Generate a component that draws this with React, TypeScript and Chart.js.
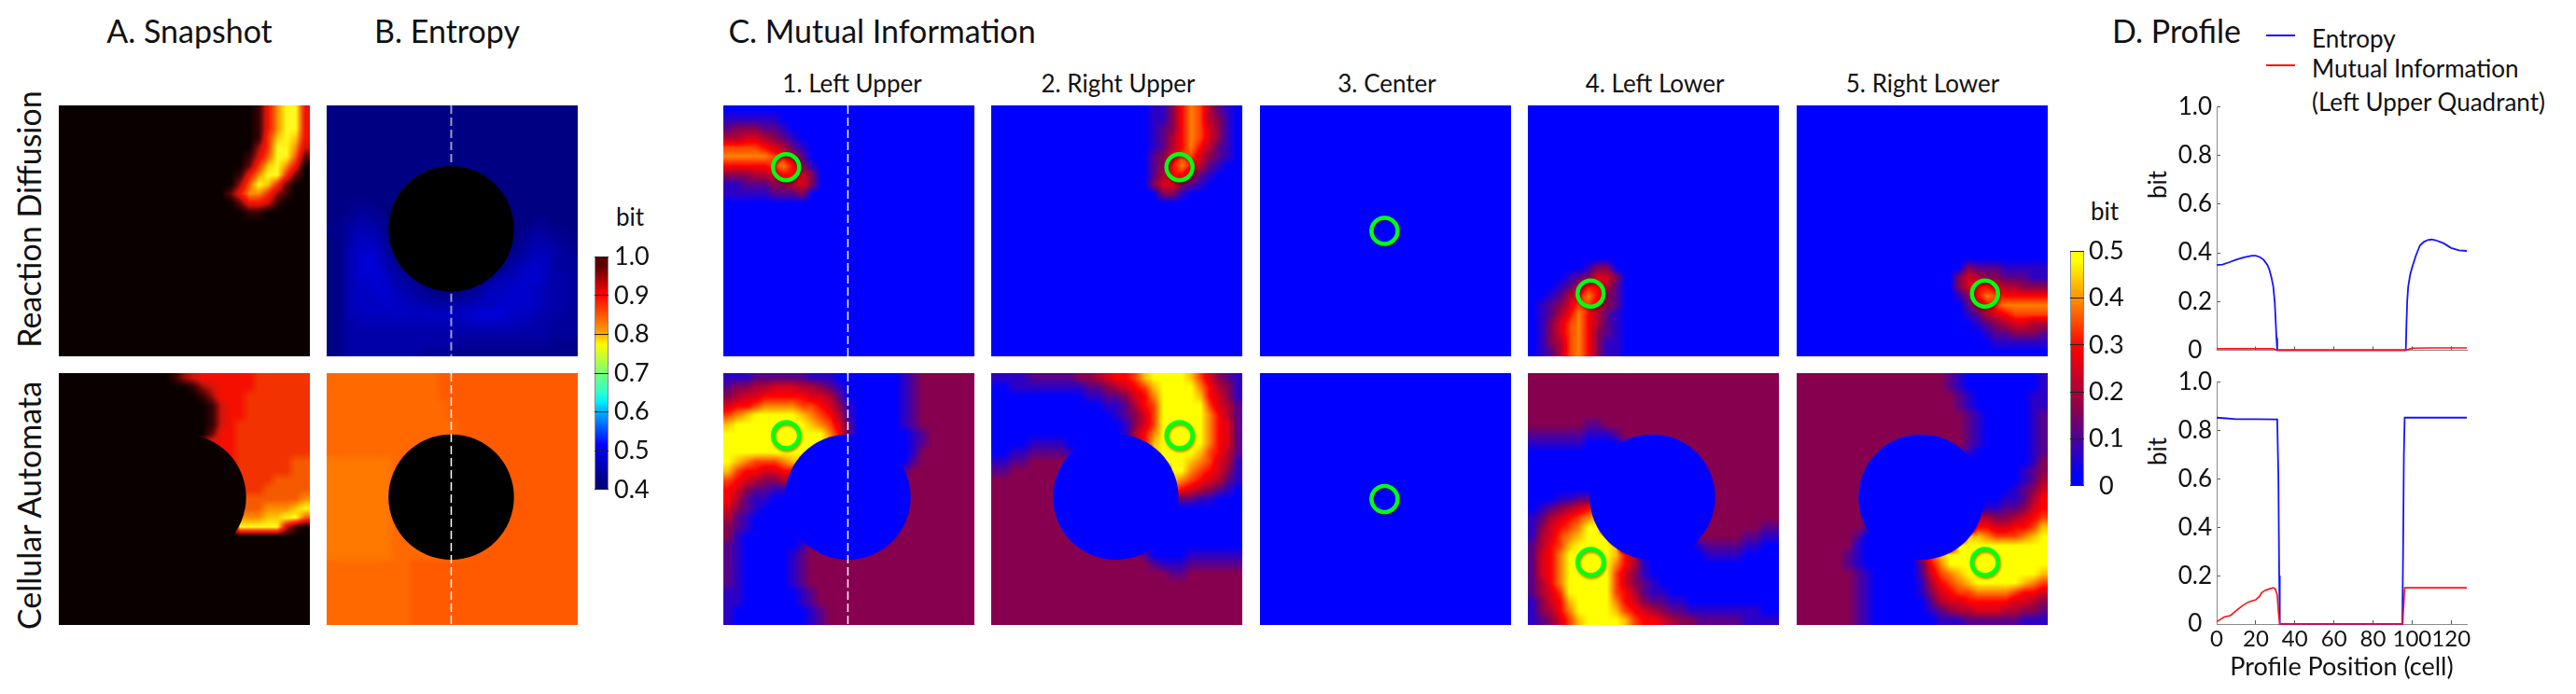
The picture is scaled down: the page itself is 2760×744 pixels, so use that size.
import React, { useEffect, useRef } from "react";
import { Chart, registerables } from "chart.js";
Chart.register(...registerables);

const FONT = "Lato, 'Open Sans', sans-serif";
const DOMAIN = 128;

// ---- heat-map grids: each row holds one level per cell, base-36 digits ----
const snapshotRD = [
  "000000000000000000000158aa5","000000000000000000000158aa5","000000000000000000000158aa5","000000000000000000000169a95",
  "00000000000000000000036aa84","00000000000000000000147aa72","00000000000000000000269a850","0000000000000000000158aa620",
  "000000000000000000037a96200","000000000000000000258863100","000000000000000000025541000","000000000000000000001100000",
  "000000000000000000000000000","000000000000000000000000000","000000000000000000000000000","000000000000000000000000000",
  "000000000000000000000000000","000000000000000000000000000","000000000000000000000000000","000000000000000000000000000",
  "000000000000000000000000000","000000000000000000000000000","000000000000000000000000000","000000000000000000000000000",
  "000000000000000000000000000","000000000000000000000000000","000000000000000000000000000",
];
const snapshotCA = [
  "000000000000134555555666666","000000000000001345555666666","000000000000000135556666666","000000000000000014556666666",
  "000000000000000014556666666","000000000000000014566666666","000000000000000025566666666","000000000000000455566666666",
  "000000000000000555566666666","000000000000000055566666677","000000000000000066666666677","000000000000000066666667777",
  "000000000000000066666677777","000000000000000077777777778","00000000000000007777778889a","000000000000000000888899aa7",
  "0000000000000000000aaaaa410","000000000000000000000000000","000000000000000000000000000","000000000000000000000000000",
  "000000000000000000000000000","000000000000000000000000000","000000000000000000000000000","000000000000000000000000000",
  "000000000000000000000000000","000000000000000000000000000","000000000000000000000000000",
];
const entropyRD = [
  "000000000000000000000000000","000000000000000000000000000","000000000000000000000000000","000000000000000000000000000",
  "000000000000000000000000000","000000000000000000000000000","000000000000000000000000000","000000000000000000000000000",
  "000000000000000000000000000","000000000000000000000000000","001110000000000000000000000","001221000000000000000000000",
  "012332100000000000000011000","113443100000000000000122110","013554100000000000000233211","014565200000000000001344321",
  "014676310000000000012455322","014676421000000000124565322","014667532100000011345665332","014566643210000124556654332",
  "014556654321101235566654332","014555655443334455666654332","014455555555555677765543322","013444444444444555554433222",
  "013333333333333333333333222","013333333333332222222222111","013333333322211111111111111",
];
const entropyCA = [
  "555555555555666666666666666","555555555555666666666666666","555555555555666666666666666","555555555555566666666666666",
  "555555555555566666666666666","555555555555556666666666666","555555555555556666666666666","555555555555556666666666666",
  "555555555555555666666666666","444444455555555666666666666","444444455555555666666666666","444444455555555666666666666",
  "444444455555555666666666666","444444455555555666666666666","444444455555555666666666666","444444455555555666666666666",
  "444444455555555666666666666","444444455555555666666666666","444444455555555666666666666","444444455555555666666666666",
  "555555555666666666666666666","555555555666666666666666666","555555555666666666666666666","555555555666666666666666666",
  "555555555666666666666666666","555555555666666666666666666","555555555666666666666666666",
];
const miLeftUpperRD = [
  "000000000000000000000000000","111111000000000000000000000","233322100000000000000000000","445543210000000000000000000",
  "777765421000000000000000000","888887642000000000000000000","666667863100000000000000000","333445665300000000000000000",
  "112223345300000000000000000","111112223000000000000000000","000000000000000000000000000","000000000000000000000000000",
  "000000000000000000000000000","000000000000000000000000000","000000000000000000000000000","000000000000000000000000000",
  "000000000000000000000000000","000000000000000000000000000","000000000000000000000000000","000000000000000000000000000",
  "000000000000000000000000000","000000000000000000000000000","000000000000000000000000000","000000000000000000000000000",
  "000000000000000000000000000","000000000000000000000000000","000000000000000000000000000",
];
const miRightUpperRD = [
  "000000000000000001136874210","000000000000000001136874310","000000000000000001236875310","000000000000000001246875310",
  "000000000000000001246864210","000000000000000002357753210","000000000000000002368642100","000000000000000002466421000",
  "000000000000000003553210000","000000000000000000331000000","000000000000000000000000000","000000000000000000000000000",
  "000000000000000000000000000","000000000000000000000000000","000000000000000000000000000","000000000000000000000000000",
  "000000000000000000000000000","000000000000000000000000000","000000000000000000000000000","000000000000000000000000000",
  "000000000000000000000000000","000000000000000000000000000","000000000000000000000000000","000000000000000000000000000",
  "000000000000000000000000000","000000000000000000000000000","000000000000000000000000000",
];
const miCenterBlank = [
  "000000000000000000000000000","000000000000000000000000000","000000000000000000000000000","000000000000000000000000000",
  "000000000000000000000000000","000000000000000000000000000","000000000000000000000000000","000000000000000000000000000",
  "000000000000000000000000000","000000000000000000000000000","000000000000000000000000000","000000000000000000000000000",
  "000000000000000000000000000","000000000000000000000000000","000000000000000000000000000","000000000000000000000000000",
  "000000000000000000000000000","000000000000000000000000000","000000000000000000000000000","000000000000000000000000000",
  "000000000000000000000000000","000000000000000000000000000","000000000000000000000000000","000000000000000000000000000",
  "000000000000000000000000000","000000000000000000000000000","000000000000000000000000000",
];
const miLeftLowerRD = [
  "000000000000000000000000000","000000000000000000000000000","000000000000000000000000000","000000000000000000000000000",
  "000000000000000000000000000","000000000000000000000000000","000000000000000000000000000","000000000000000000000000000",
  "000000000000000000000000000","000000000000000000000000000","000000000000000000000000000","000000000000000000000000000",
  "000000000000000000000000000","000000000000000000000000000","000000000000000000000000000","000000000000000000000000000",
  "000000000000000000000000000","000000133000000000000000000","000012355300000000000000000","000124664200000000000000000",
  "001246863200000000000000000","012357753200000000000000000","012468642100000000000000000","013578642100000000000000000",
  "013578632100000000000000000","013478631100000000000000000","012478631100000000000000000",
];
const miRightLowerRD = [
  "000000000000000000000000000","000000000000000000000000000","000000000000000000000000000","000000000000000000000000000",
  "000000000000000000000000000","000000000000000000000000000","000000000000000000000000000","000000000000000000000000000",
  "000000000000000000000000000","000000000000000000000000000","000000000000000000000000000","000000000000000000000000000",
  "000000000000000000000000000","000000000000000000000000000","000000000000000000000000000","000000000000000000000000000",
  "000000000000000000000000000","000000000000000000322211111","000000000000000003543322211","000000000000000003566544333",
  "000000000000000001368766666","000000000000000000246788888","000000000000000000124567777","000000000000000000012345544",
  "000000000000000000001223332","000000000000000000000111111","000000000000000000000000000",
];
const miLeftUpperCA = [
  "111222222111000000012333333","233445554432100000012333333","345566666554200000012333333","566788887765310000012333333",
  "789aaaaa9876410000012333333","9aaaaaaaa987520000012333333","aaaaaaaaaaa8620000001233333","aaaaaaaaaaa9740000001233333",
  "aaaaaaaaaa00000000001333333","a98777899000000000002333333","976655660000000000023333333","765433440000000000333333333",
  "653221100000000000333333333","642110000000000000333333333","532100000000000000333333333","421000000000000000333333333",
  "321000000000000000333333333","310000000000000003333333333","210000001333333333333333333","210000012333333333333333333",
  "210000012333333333333333333","210000012333333333333333333","210000012333333333333333333","110000001233333333333333333",
  "110000001233333333333333333","100000000123333333333333333","100000000123333333333333333",
];
const miRightUpperCA = [
  "11112222233456679aaaa975321","001111111122345679aaaa86431","000000000011223568aaaa96531","000000000000112467aaaaa7542",
  "000000000000012357aaaaa8642","000000000000001357aaaaa8652","000000000000001468aaaaa8652","000011110000000469aaaaa8652",
  "001122221000000009aaaa97642","112233333000000000aaa987541","2233333330000000000aa876531","333333333000000000098765421",
  "333333333000000000076543210","333333333000000000042211000","333333333000000000000000000","333333333000000000000000000",
  "333333333000000000000000000","333333333300000000000000000","333333333333333300000000000","333333333333333320000111111",
  "333333333333333332111222222","333333333333333333322333333","333333333333333333333333333","333333333333333333333333333",
  "333333333333333333333333333","333333333333333333333333333","333333333333333333333333333",
];
const miLeftLowerCA = [
  "333333333333333333333333333","333333333333333333333333333","333333333333333333333333333","333333333333333333333333333",
  "333333333333333333333333333","333333223333333333333333333","222222111233333333333333333","111111000023333333333333333",
  "000000000003333333333333333","000000000000000003333333333","000000000000000000333333333","000000000000000000333333333",
  "000000000000000000333333333","000112240000000000333333333","012345670000000000333333333","124567890000000000333333333",
  "135678aa0000000000333333322","145789aaa000000000333332211","24679aaaa900000000122221100","2568aaaaa964000000011110000",
  "2568aaaaa864100000000000000","2568aaaaa753100000000000000","2468aaaaa753210000000000000","2457aaaaa764211000000000000",
  "13569aaaa865322110000000000","13468aaaa976543221111111100","123579aaaa97665433222221111",
];
const miRightLowerCA = [
  "333333333333333321000000001","333333333333333321000000001","333333333333333332100000011","333333333333333332100000011",
  "333333333333333333210000012","333333333333333333210000012","333333333333333333210000012","333333333333333333210000012",
  "333333333333333333100000012","333333333300000000000000013","333333333000000000000000123","333333333000000000000000124",
  "333333333000000000000001235","333333333000000000000011246","333333333000000000001122356","333333333000000000044334567",
  "333333320000000000066556679","33333320000000000099877789a","33333310000000000aaaaaaaaaa","3333321000000479aaaaaaaaaaa",
  "3333321000000268aaaaaaaaaaa","333333210000025789aaaaaaaa9","3333332100000146789aaaaa987","333333210000013567788887665",
  "333333210000002455666665543","333333210000001234455544332","333333210000000111222222111",
];

// ---- colour bars ----
const entropyBarValues = [1.0, 0.95, 0.9, 0.85, 0.8, 0.75, 0.7, 0.65, 0.6, 0.55, 0.5, 0.45, 0.4];
const miBarValues = [0.5, 0.45, 0.4, 0.35, 0.3, 0.25, 0.2, 0.15, 0.1, 0.05, 0];

// ---- probe positions (cell units) and profile line ----
const probeLeftUpper = { x: 32, y: 31.5 };
const probeRightUpper = { x: 96, y: 31.5 };
const probeCenter = { x: 63.5, y: 64 };
const probeLeftLower = { x: 32, y: 96 };
const probeRightLower = { x: 96, y: 96 };
const obstacleCenter = { x: 63.5, y: 63 };
const obstacleRadius = 32;
const profileColumn = 63.5;

// ---- profile curves ----
const rdEntropyX = [0,3,6,10,14,18,20,22,24,26,27,28,29,29.7,30.2,30.6,31,96.8,97.1,97.5,98,99,100,102,104,106,108,110,112,116,120,124,128];
const rdEntropyY = [.35,.352,.36,.372,.382,.388,.388,.383,.372,.35,.33,.3,.26,.2,.12,.05,0,0,.1,.2,.26,.31,.34,.39,.43,.445,.453,.455,.452,.44,.42,.41,.408];
const rdMiX = [0,29,31,96,98,100,110,128];
const rdMiY = [.006,.006,0,0,.003,.008,.009,.009];
const caEntropyX = [0,5,10,20,31,31.6,32,32.3,95,95.4,95.8,96.2,128];
const caEntropyY = [.853,.85,.847,.847,.846,.6,.2,0,0,.3,.7,.853,.853];
const caMiX = [0,2,4,7,10,13,16,18,20,22,23,25,27,29,30,31,31.6,32.3,95.2,96.2,128];
const caMiY = [.01,.02,.03,.035,.055,.075,.09,.095,.1,.115,.13,.14,.145,.15,.145,.12,.05,0,0,.15,.15];

// ---- colour maps: [value, r, g, b] ----
type Stop = number[];
const snapshotStops: Stop[] = [[0,10,0,0],[2,100,5,5],[4,210,20,10],[5,245,15,0],[6,242,50,0],[7,245,90,0],[8,255,140,0],[9,255,200,0],[10,255,248,30]];
const entropyStops: Stop[] = [[.4,0,0,130],[.5,0,0,255],[.6,0,190,255],[.62,0,240,255],[.65,50,255,200],[.7,120,255,120],[.78,255,250,0],[.8,255,200,0],[.82,255,150,0],[.92,255,0,0],[1,90,0,0]];
const miStops: Stop[] = [[0,0,0,255],[.15,135,0,80],[.3,255,0,0],[.5,255,255,0]];

function shade(stops: Stop[], v: number): number[] {
  if (v <= stops[0][0]) return stops[0].slice(1);
  for (let i = 1; i < stops.length; i++) {
    if (v <= stops[i][0]) {
      const a = stops[i - 1], b = stops[i], t = (v - a[0]) / (b[0] - a[0]);
      return [a[1] + (b[1] - a[1]) * t, a[2] + (b[2] - a[2]) * t, a[3] + (b[3] - a[3]) * t];
    }
  }
  return stops[stops.length - 1].slice(1);
}
const css = (c: number[]) => `rgb(${c.map(Math.round).join(",")})`;

function decode(rows: string[], base: number, step: number): number[][] {
  return rows.map((r) => {
    const out: number[] = [];
    for (let i = 0; i < rows.length; i++) {
      const ch = r[i] ?? r[r.length - 1];
      out.push(base + parseInt(ch, 36) * step);
    }
    return out;
  });
}

// Paints each heat dataset's cells as a continuous field, placed with the chart's scales.
const heatPlugin = {
  id: "heatField",
  afterDatasetDraw(chart: any, args: any) {
    const ds = chart.data.datasets[args.index];
    if (ds.heat) {
      const { grid, stops, frame } = ds.heat;
      const { x, y } = chart.scales;
      const left = Math.round(Math.min(x.getPixelForValue(x.min), x.getPixelForValue(x.max)));
      const right = Math.round(Math.max(x.getPixelForValue(x.min), x.getPixelForValue(x.max)));
      const top = Math.round(Math.min(y.getPixelForValue(y.min), y.getPixelForValue(y.max)));
      const bottom = Math.round(Math.max(y.getPixelForValue(y.min), y.getPixelForValue(y.max)));
      const w = right - left, h = bottom - top;
      const off = document.createElement("canvas");
      off.width = w; off.height = h;
      const octx = off.getContext("2d")!;
      const img = octx.createImageData(w, h);
      const nr = grid.length, nc = grid[0].length;
      for (let py = 0; py < h; py++) {
        const fy = Math.max(0, Math.min(nr - 1, ((py + 0.5) / h) * nr - 0.5));
        const r0 = Math.floor(fy), r1 = Math.min(nr - 1, r0 + 1), ty = fy - r0;
        for (let px = 0; px < w; px++) {
          const fx = Math.max(0, Math.min(nc - 1, ((px + 0.5) / w) * nc - 0.5));
          const c0 = Math.floor(fx), c1 = Math.min(nc - 1, c0 + 1), tx = fx - c0;
          const v = (grid[r0][c0] * (1 - tx) + grid[r0][c1] * tx) * (1 - ty) + (grid[r1][c0] * (1 - tx) + grid[r1][c1] * tx) * ty;
          const c = shade(stops, v);
          const i = (py * w + px) * 4;
          img.data[i] = c[0]; img.data[i + 1] = c[1]; img.data[i + 2] = c[2]; img.data[i + 3] = 255;
        }
      }
      octx.putImageData(img, 0, 0);
      chart.ctx.drawImage(off, left, top);
      if (frame) {
        chart.ctx.save();
        chart.ctx.strokeStyle = frame;
        chart.ctx.lineWidth = 1;
        chart.ctx.strokeRect(left + 0.5, top + 0.5, w - 1, h - 1);
        chart.ctx.restore();
      }
    }
  },
  beforeDatasetDraw(chart: any, args: any) {
    if (chart.data.datasets[args.index].probe) {
      const c = chart.ctx;
      c.save();
      c.shadowColor = "rgba(0,0,0,0.4)";
      c.shadowBlur = 3;
      c.shadowOffsetX = 1;
      c.shadowOffsetY = 2;
    }
  },
};
const probeRestore = {
  id: "probeRestore",
  afterDatasetDraw(chart: any, args: any) {
    if (chart.data.datasets[args.index].probe) chart.ctx.restore();
  },
};

function useChart(config: () => any) {
  const ref = useRef<HTMLCanvasElement>(null);
  useEffect(() => {
    const chart = new Chart(ref.current!, config());
    return () => chart.destroy();
  }, []);
  return ref;
}

const baseOptions = {
  responsive: false,
  animation: false as const,
  devicePixelRatio: 1,
  events: [] as string[],
  plugins: { legend: { display: false }, tooltip: { enabled: false }, title: { display: false } },
};

function HeatPanel(p: {
  left: number; top: number; height: number; rows: string[]; base: number; step: number; stops: Stop[];
  discColor?: string; probe?: { x: number; y: number }; dash?: number[][]; dashColor?: string; dashWidth?: number;
}) {
  const width = 269;
  const ref = useChart(() => {
    const grid = decode(p.rows, p.base, p.step);
    const n = grid.length;
    const cells: any[] = [];
    const colors: string[] = [];
    grid.forEach((row, r) =>
      row.forEach((v, c) => {
        cells.push({ x: ((c + 0.5) * DOMAIN) / n, y: ((r + 0.5) * DOMAIN) / n, v });
        colors.push(css(shade(p.stops, v)));
      })
    );
    const datasets: any[] = [];
    if (p.probe) {
      datasets.push({
        label: "probe", probe: true, data: [p.probe], order: 0, pointRadius: 14, pointBorderWidth: 4.5,
        pointBorderColor: "#00ff14", pointBackgroundColor: "rgba(0,0,0,0)",
      });
    }
    (p.dash || []).forEach((seg) => {
      datasets.push({
        label: "profile line", data: [{ x: profileColumn, y: seg[0] }, { x: profileColumn, y: seg[1] }], order: 1,
        showLine: true, pointRadius: 0, borderColor: p.dashColor || "#fff", borderWidth: p.dashWidth || 1.5, borderDash: [9, 4],
      });
    });
    if (p.discColor) {
      datasets.push({
        label: "obstacle", data: [obstacleCenter], order: 2, pointBackgroundColor: p.discColor, pointBorderWidth: 0,
        pointRadius: (ctx: any) => {
          const s = ctx.chart.scales.x;
          return s.getPixelForValue(obstacleRadius) - s.getPixelForValue(0);
        },
      });
    }
    datasets.push({
      label: "cells", data: cells, order: 3, pointStyle: "rect", pointBackgroundColor: colors, pointBorderWidth: 0,
      pointRadius: 8, heat: { grid, stops: p.stops },
    });
    return {
      type: "scatter",
      data: { datasets },
      options: {
        ...baseOptions,
        layout: { padding: 0, autoPadding: false },
        scales: {
          x: { type: "linear", display: false, min: 0, max: DOMAIN },
          y: { type: "linear", display: false, min: 0, max: DOMAIN, reverse: true },
        },
      },
      plugins: [heatPlugin, probeRestore],
    };
  });
  return <canvas ref={ref} width={width} height={p.height} style={{ position: "absolute", left: p.left, top: p.top }} />;
}

function ColorBar(p: { left: number; top: number; values: number[]; stops: Stop[]; min: number; max: number; tickPad: number }) {
  const W = 100, H = 300, barW = 15, barH = 268, padTop = 14;
  const ref = useChart(() => {
    const grid = p.values.map((v) => [v]);
    return {
      type: "scatter",
      data: {
        datasets: [{
          label: "scale", data: p.values.map((v) => ({ x: 0.5, y: v })), pointStyle: "rect", pointRadius: 8, pointBorderWidth: 0,
          pointBackgroundColor: p.values.map((v) => css(shade(p.stops, v))), heat: { grid, stops: p.stops, frame: "#8a8a8a" },
        }],
      },
      options: {
        ...baseOptions,
        layout: { autoPadding: false, padding: { left: 7, top: padTop, right: 0, bottom: H - padTop - barH } },
        scales: {
          x: { type: "linear", display: false, min: 0, max: 1 },
          y: {
            type: "linear", position: "right", min: p.min, max: p.max,
            afterFit: (s: any) => { s.width = W - 7 - barW; },
            border: { display: false },
            grid: { z: 1, color: "#222", tickLength: -3, drawOnChartArea: true, borderDash: [3, 9, 3] },
            ticks: {
              stepSize: 0.1, includeBounds: false, autoSkip: false, padding: p.tickPad, crossAlign: "center", color: "#111",
              font: { family: FONT, size: 27 }, callback: (v: number) => (v === 0 ? "0" : v.toFixed(1)),
            },
          },
        },
      },
      plugins: [heatPlugin],
    };
  });
  return <canvas ref={ref} width={W} height={H} style={{ position: "absolute", left: p.left - 7, top: p.top - padTop }} />;
}

function ProfileChart(p: {
  top: number; height: number; padTop: number; xHeight: number; showX: boolean;
  ex: number[]; ey: number[]; mx: number[]; my: number[];
}) {
  const left = 2290, W = 370;
  const ref = useChart(() => ({
    type: "scatter",
    data: {
      datasets: [
        { label: "Mutual Information", data: p.mx.map((x, i) => ({ x, y: p.my[i] })), showLine: true, pointRadius: 0, borderColor: "#ff1010", borderWidth: 1.6, clip: false },
        { label: "Entropy", data: p.ex.map((x, i) => ({ x, y: p.ey[i] })), showLine: true, pointRadius: 0, borderColor: "#1414ff", borderWidth: 1.8, clip: false },
      ],
    },
    options: {
      ...baseOptions,
      layout: { autoPadding: false, padding: { top: p.padTop, right: W - (2643 - left), left: 0, bottom: 0 } },
      scales: {
        x: {
          type: "linear", min: 0, max: DOMAIN,
          afterFit: (s: any) => { s.height = p.xHeight; },
          border: { color: "#8a8a8a" },
          grid: { drawOnChartArea: false, tickLength: -4, color: "#555" },
          ticks: {
            stepSize: 20, includeBounds: false, autoSkip: false, display: p.showX, padding: 6, color: "#111", maxRotation: 0,
            font: { family: FONT, size: 24 },
          },
          title: {
            display: p.showX, text: "Profile Position (cell)", color: "#111", font: { family: FONT, size: 27 },
            padding: { top: 0, bottom: 13 },
          },
        },
        y: {
          type: "linear", min: 0, max: 1,
          afterFit: (s: any) => { s.width = 2375 - left; },
          border: { color: "#8a8a8a" },
          grid: { drawOnChartArea: false, tickLength: -4, color: "#555" },
          ticks: {
            stepSize: 0.2, includeBounds: false, autoSkip: false, padding: 9, crossAlign: "center", color: "#111",
            font: { family: FONT, size: 26 }, callback: (v: number) => (v === 0 ? "0" : v.toFixed(1)),
          },
        },
      },
    },
  }));
  return <canvas ref={ref} width={W} height={p.height} style={{ position: "absolute", left, top: p.top }} />;
}

function Label(p: { x: number; y: number; size: number; text: string; rotate?: boolean; anchor?: "left" | "center" }) {
  const tx = p.anchor === "left" ? "0" : "-50%";
  return (
    <div
      style={{
        position: "absolute", left: p.x, top: p.y, whiteSpace: "nowrap", fontFamily: FONT, fontSize: p.size, color: "#111", lineHeight: 1,
        transform: `translate(${tx},-50%)${p.rotate ? " rotate(-90deg)" : ""}`,
      }}
    >
      {p.text}
    </div>
  );
}

const ROW1 = 113, ROW2 = 400, H1 = 269, H2 = 270;
const C_X = [775, 1062, 1350, 1637, 1925];
const FULL = [[0, DOMAIN]];
const ABOVE_BELOW = [[0, 30], [96, DOMAIN]];

export default function App() {
  const mi = { base: 0, step: 0.05, stops: miStops };
  const blue = "#0000ff";
  return (
    <div style={{ position: "fixed", left: 0, top: 0, width: 2760, height: 744, background: "#fff", overflow: "hidden" }}>
      <Label x={203} y={33} size={34} text="A. Snapshot" />
      <Label x={479} y={33} size={34} text="B. Entropy" />
      <Label x={945} y={33} size={34} text="C. Mutual Information" />
      <Label x={2332} y={33} size={34} text="D. Profile" />
      <Label x={31} y={235} size={34} text="Reaction Diffusion" rotate />
      <Label x={31} y={542} size={34} text="Cellular Automata" rotate />
      <Label x={913} y={89} size={26} text="1. Left Upper" />
      <Label x={1198} y={89} size={26} text="2. Right Upper" />
      <Label x={1486} y={89} size={26} text="3. Center" />
      <Label x={1773} y={89} size={26} text="4. Left Lower" />
      <Label x={2060} y={89} size={26} text="5. Right Lower" />
      <Label x={675} y={232} size={26} text="bit" />
      <Label x={2255} y={226} size={26} text="bit" />
      <Label x={2311} y={198} size={26} text="bit" rotate />
      <Label x={2311} y={484} size={26} text="bit" rotate />
      <div style={{ position: "absolute", left: 2428, top: 37, width: 31, height: 2, background: "#1414ff" }} />
      <div style={{ position: "absolute", left: 2428, top: 69, width: 31, height: 2, background: "#ff1010" }} />
      <Label x={2477} y={41} size={26} text="Entropy" anchor="left" />
      <Label x={2477} y={73} size={26} text="Mutual Information" anchor="left" />
      <Label x={2477} y={109} size={26} text="(Left Upper Quadrant)" anchor="left" />

      <HeatPanel left={63} top={ROW1} height={H1} rows={snapshotRD} base={0} step={1} stops={snapshotStops} />
      <HeatPanel left={63} top={ROW2} height={H2} rows={snapshotCA} base={0} step={1} stops={snapshotStops} discColor="rgb(10,0,0)" />
      <HeatPanel left={350} top={ROW1} height={H1} rows={entropyRD} base={0.4} step={0.01} stops={entropyStops} discColor="#000" dash={ABOVE_BELOW} dashColor="rgba(255,255,255,0.6)" dashWidth={2} />
      <HeatPanel left={350} top={ROW2} height={H2} rows={entropyCA} base={0.8} step={0.01} stops={entropyStops} discColor="#000" dash={FULL} />

      <HeatPanel left={C_X[0]} top={ROW1} height={H1} rows={miLeftUpperRD} {...mi} probe={probeLeftUpper} dash={FULL} />
      <HeatPanel left={C_X[1]} top={ROW1} height={H1} rows={miRightUpperRD} {...mi} probe={probeRightUpper} />
      <HeatPanel left={C_X[2]} top={ROW1} height={H1} rows={miCenterBlank} {...mi} probe={probeCenter} />
      <HeatPanel left={C_X[3]} top={ROW1} height={H1} rows={miLeftLowerRD} {...mi} probe={probeLeftLower} />
      <HeatPanel left={C_X[4]} top={ROW1} height={H1} rows={miRightLowerRD} {...mi} probe={probeRightLower} />

      <HeatPanel left={C_X[0]} top={ROW2} height={H2} rows={miLeftUpperCA} {...mi} discColor={blue} probe={probeLeftUpper} dash={FULL} />
      <HeatPanel left={C_X[1]} top={ROW2} height={H2} rows={miRightUpperCA} {...mi} discColor={blue} probe={probeRightUpper} />
      <HeatPanel left={C_X[2]} top={ROW2} height={H2} rows={miCenterBlank} {...mi} probe={probeCenter} />
      <HeatPanel left={C_X[3]} top={ROW2} height={H2} rows={miLeftLowerCA} {...mi} discColor={blue} probe={probeLeftLower} />
      <HeatPanel left={C_X[4]} top={ROW2} height={H2} rows={miRightLowerCA} {...mi} discColor={blue} probe={probeRightLower} />

      <ColorBar left={637} top={264} values={entropyBarValues} stops={entropyStops} min={0.4} max={1} tickPad={9} />
      <ColorBar left={2218} top={259} values={miBarValues} stops={miStops} min={0} max={0.5} tickPad={8} />

      <ProfileChart top={90} height={310} padTop={23} xHeight={19} showX={false} ex={rdEntropyX} ey={rdEntropyY} mx={rdMiX} my={rdMiY} />
      <ProfileChart top={385} height={359} padTop={15} xHeight={75} showX={true} ex={caEntropyX} ey={caEntropyY} mx={caMiX} my={caMiY} />
    </div>
  );
}
